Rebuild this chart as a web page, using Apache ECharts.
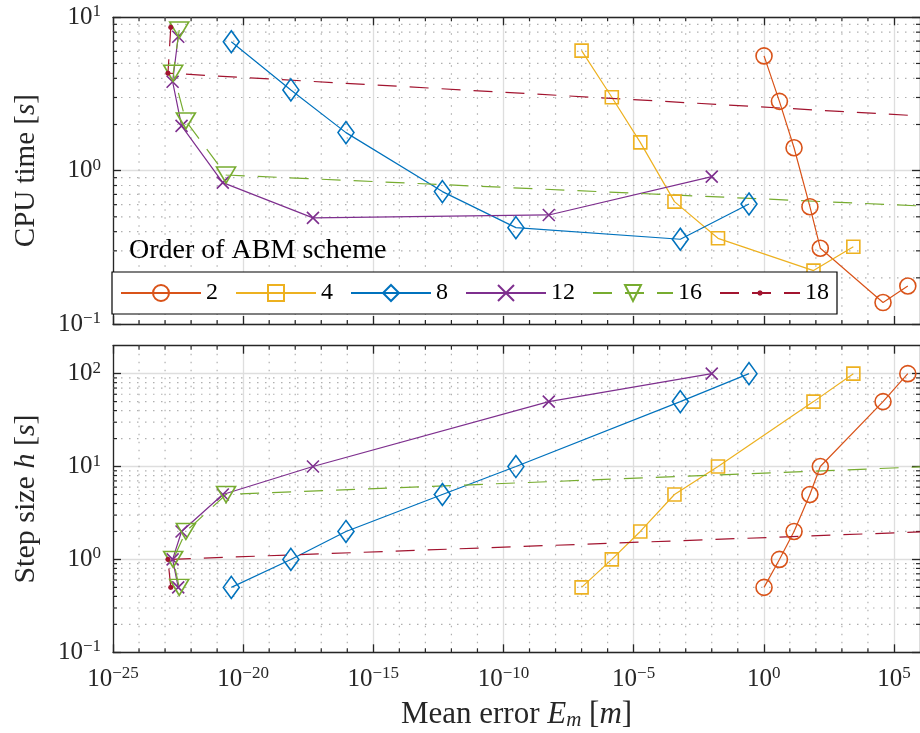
<!DOCTYPE html>
<html>
<head>
<meta charset="utf-8">
<script src="https://cdn.jsdelivr.net/npm/echarts@6/dist/echarts.min.js"></script>
<style>
  html, body { margin: 0; padding: 0; background: #fff; }
  #chart { width: 920px; height: 733px; }
</style>
</head>
<body>
<div id="chart"></div>
<script>
// step sizes h [s] used by every scheme
var stepSizes = [0.5, 1, 2, 5, 10, 50, 100];

// mean error E_m [m] and CPU time [s] per ABM order (one entry per step size)
var err2 = [1.02, 3.98, 14.5, 59, 148, 3.8e4, 3.4e5];
var cpu2 = [5.60, 2.83, 1.41, 0.582, 0.312, 0.138, 0.177];
var err4 = [1.0e-7, 1.45e-6, 1.8e-5, 3.7e-4, 0.0174, 81, 2750];
var cpu4 = [6.06, 3.01, 1.53, 0.628, 0.362, 0.223, 0.319];
var err8 = [3.5e-21, 6.8e-19, 8.9e-17, 4.5e-13, 3.0e-10, 6.2e-4, 0.27];
var cpu8 = [6.93, 3.36, 1.77, 0.73, 0.425, 0.357, 0.606];
var err12 = [3.2e-23, 1.95e-23, 4.3e-23, 1.65e-21, 4.8e-18, 5.5e-9, 0.01];
var cpu12 = [7.47, 3.80, 1.96, 0.835, 0.492, 0.514, 0.914];
var err16 = [3.5e-23, 2.05e-23, 6.3e-23, 2.2e-21, 2.3e6];
var cpu16 = [8.26, 4.31, 2.11, 0.937, 0.585];
var err18 = [1.66e-23, 1.29e-23, 3.0e6];
var cpu18 = [8.6, 4.32, 2.25];

var orders = ['2', '4', '8', '12', '16', '18'];

// ticks
var xMajorTicks = [1e-25, 1e-20, 1e-15, 1e-10, 1e-5, 1, 1e5];
var xMinorTicks = [1e-24, 1e-23, 1e-22, 1e-21, 1e-19, 1e-18, 1e-17, 1e-16,
                   1e-14, 1e-13, 1e-12, 1e-11, 1e-9, 1e-8, 1e-7, 1e-6,
                   1e-4, 1e-3, 1e-2, 1e-1, 10, 100, 1e3, 1e4];
var cpuMajorTicks = [0.1, 1, 10];
var stepMajorTicks = [0.1, 1, 10, 100];
var cpuMinorTicks = [0.2, 0.3, 0.4, 0.5, 0.6, 0.7, 0.8, 0.9, 2, 3, 4, 5, 6, 7, 8, 9];
var stepMinorTicks = [0.2, 0.3, 0.4, 0.5, 0.6, 0.7, 0.8, 0.9, 2, 3, 4, 5, 6, 7, 8, 9,
                      20, 30, 40, 50, 60, 70, 80, 90];

var FONT = "'Liberation Serif', 'DejaVu Serif', serif";
var AXIS = '#262626';
var MAJOR_GRID = '#dedede';
var MINOR_GRID = '#b0b0b0';

var myChart = echarts.init(document.getElementById('chart'));

function powerLabel(v) {
    var l = Math.log10(v);
    var e = Math.round(l);
    if (Math.abs(l - e) > 1e-6) return '';
    return '{b|10}{s|' + String(e).replace('-', '\u2212') + '}';
}

var labelRich = {
    b: { fontFamily: FONT, fontSize: 25, color: AXIS },
    s: { fontFamily: FONT, fontSize: 17, color: AXIS, padding: [0, 0, 11, 0] }
};

function logAxis(gridIndex, position, min, max, ticks, showLabels, extra) {
    var a = {
        type: 'log', logBase: 10, gridIndex: gridIndex, position: position,
        min: min, max: max,
        axisLine: { show: true, onZero: false, lineStyle: { color: AXIS, width: 1.3 } },
        axisTick: { show: true, inside: true, length: 8, customValues: ticks,
                    lineStyle: { color: AXIS, width: 1.3 } },
        axisLabel: { show: showLabels, customValues: ticks, formatter: powerLabel,
                     rich: labelRich, margin: 12, showMaxLabel: showLabels, showMinLabel: showLabels },
        splitLine: { show: showLabels, lineStyle: { color: MAJOR_GRID, width: 1.3 } }
    };
    for (var k in extra) a[k] = extra[k];
    return a;
}

function nameStyle(size) {
    return {
        fontFamily: FONT, fontSize: size, color: AXIS,
        rich: {
            n: { fontFamily: FONT, fontSize: size, color: AXIS },
            i: { fontFamily: FONT, fontSize: size, color: AXIS, fontStyle: 'italic' },
            sub: { fontFamily: FONT, fontSize: Math.round(size * 0.68), color: AXIS, fontStyle: 'italic', padding: [12, 0, 0, 0] }
        }
    };
}

var xAxes = [
    logAxis(0, 'bottom', 1e-25, 1e6, xMajorTicks, false, {}),
    logAxis(0, 'top', 1e-25, 1e6, xMajorTicks, false, {}),
    logAxis(1, 'bottom', 1e-25, 1e6, xMajorTicks, true, {
        name: '{n|Mean error }{i|E}{sub|m}{n| [}{i|m}{n|]}',
        nameLocation: 'middle', nameGap: 46, nameTextStyle: nameStyle(31)
    }),
    logAxis(1, 'top', 1e-25, 1e6, xMajorTicks, false, {})
];
// the x grid lines are shown on both plots
xAxes[0].splitLine.show = true;
xAxes[2].axisLabel.margin = 13;

var yAxes = [
    logAxis(0, 'left', 0.1, 10, cpuMajorTicks, true, {
        name: '{n|CPU time [}{i|s}{n|]}',
        nameLocation: 'middle', nameGap: 72, nameTextStyle: nameStyle(29)
    }),
    logAxis(0, 'right', 0.1, 10, cpuMajorTicks, false, {}),
    logAxis(1, 'left', 0.1, 200, stepMajorTicks, true, {
        name: '{n|Step size }{i|h}{n| [}{i|s}{n|]}',
        nameLocation: 'middle', nameGap: 72, nameTextStyle: nameStyle(30)
    }),
    logAxis(1, 'right', 0.1, 200, stepMajorTicks, false, {})
];

var styles = [
    { err: err2, cpu: cpu2, color: '#D95319', symbol: 'circle', size: 16, dash: 'solid', fill: 'rgba(0,0,0,0)', bw: 1.6 },
    { err: err4, cpu: cpu4, color: '#EDB120', symbol: 'rect', size: 13, dash: 'solid', fill: 'rgba(0,0,0,0)', bw: 1.6 },
    { err: err8, cpu: cpu8, color: '#0072BD', symbol: 'diamond', size: [16, 22], dash: 'solid', fill: 'rgba(0,0,0,0)', bw: 1.6 },
    { err: err12, cpu: cpu12, color: '#7E2F8E', symbol: 'path://M0,0L10,10M10,0L0,10', size: 12, dash: 'solid', fill: 'rgba(0,0,0,0)', bw: 1.6 },
    { err: err16, cpu: cpu16, color: '#77AC30', symbol: 'triangle', size: [19, 16], rotate: 180, dash: [19, 13], fill: 'rgba(0,0,0,0)', bw: 1.6 },
    { err: err18, cpu: cpu18, color: '#A2142F', symbol: 'path://M0,0L0.01,0.01M10,10L9.99,9.99M5,3.3L6.2,3.8L6.7,5L6.2,6.2L5,6.7L3.8,6.2L3.3,5L3.8,3.8Z', size: 16, dash: [19, 13], fill: '#A2142F', bw: 0 }
];

function lineSeries(name, st, data, axisIndex) {
    return {
        name: name, type: 'line', xAxisIndex: axisIndex, yAxisIndex: axisIndex,
        data: data, symbol: st.symbol, symbolSize: st.size, symbolRotate: st.rotate || 0,
        showSymbol: true, clip: true, z: 3,
        lineStyle: { color: st.color, width: 1.2, type: st.dash },
        itemStyle: { color: st.fill, borderColor: st.color, borderWidth: st.bw },
        emphasis: { disabled: true }
    };
}

var series = [];
orders.forEach(function (name, k) {
    var st = styles[k];
    series.push(lineSeries(name, st, st.err.map(function (e, i) { return [e, st.cpu[i]]; }), 0));
    series.push(lineSeries(name, st, st.err.map(function (e, i) { return [e, stepSizes[i]]; }), 2));
});

function minorLine(x1, y1, x2, y2, grid) {
    return { type: 'line', shape: { x1: x1, y1: y1, x2: x2, y2: y2 },
             style: grid ? { stroke: MINOR_GRID, lineWidth: 1.2, lineDash: [1.5, 6.5] }
                         : { stroke: AXIS, lineWidth: 1.2 } };
}

function renderXMinor(params, api) {
    var cs = params.coordSys;
    var px = api.coord([api.value(0), api.value(1)])[0];
    return { type: 'group', children: [
        minorLine(px, cs.y, px, cs.y + cs.height, true),
        minorLine(px, cs.y + cs.height, px, cs.y + cs.height - 4, false),
        minorLine(px, cs.y, px, cs.y + 4, false)
    ] };
}

function renderYMinor(params, api) {
    var cs = params.coordSys;
    var py = api.coord([api.value(0), api.value(1)])[1];
    return { type: 'group', children: [
        minorLine(cs.x, py, cs.x + cs.width, py, true),
        minorLine(cs.x, py, cs.x + 4, py, false),
        minorLine(cs.x + cs.width, py, cs.x + cs.width - 4, py, false)
    ] };
}

[0, 2].forEach(function (ai) {
    var yMinor = ai === 0 ? cpuMinorTicks : stepMinorTicks;
    series.push({
        type: 'custom', xAxisIndex: ai, yAxisIndex: ai, silent: true, z: 1, clip: false,
        renderItem: renderXMinor, data: xMinorTicks.map(function (v) { return [v, 1]; })
    });
    series.push({
        type: 'custom', xAxisIndex: ai, yAxisIndex: ai, silent: true, z: 1, clip: false,
        renderItem: renderYMinor, data: yMinor.map(function (v) { return [1, v]; })
    });
});

var option = {
    animation: false,
    backgroundColor: '#fff',
    grid: [
        { left: 113, top: 17.3, width: 812, height: 306.7, containLabel: false },
        { left: 113, top: 345.7, width: 812, height: 306.6, containLabel: false }
    ],
    title: {
        text: 'Order of ABM scheme', left: 124, top: 232,
        textStyle: { fontFamily: FONT, fontSize: 28, fontWeight: 'normal', color: '#000' }
    },
    legend: {
        data: orders, left: 112, top: 272, orient: 'horizontal',
        itemWidth: 80, itemHeight: 20, itemGap: 17,
        padding: [9, 8, 9, 8],
        backgroundColor: '#fff', borderColor: '#000', borderWidth: 1.2, borderRadius: 0,
        textStyle: { fontFamily: FONT, fontSize: 24, color: '#000' },
        selectedMode: false
    },
    xAxis: xAxes,
    yAxis: yAxes,
    series: series
};

myChart.setOption(option);
</script>
</body>
</html>
